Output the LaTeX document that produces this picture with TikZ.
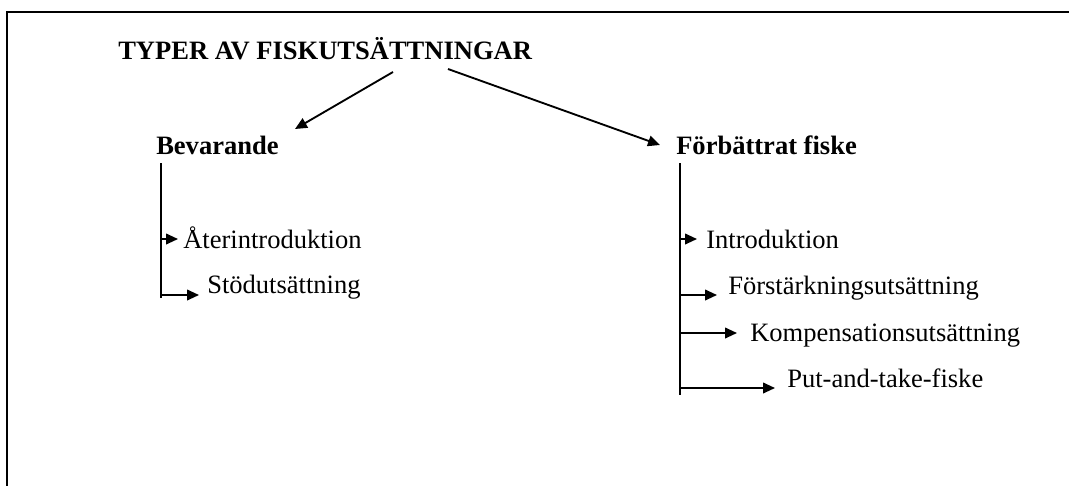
\documentclass[tikz,border=0pt]{standalone}
\usepackage{fontspec}
\setmainfont{Liberation Serif}
\usepackage{tikz}
\usetikzlibrary{positioning,arrows.meta,calc}

\begin{document}
\begin{tikzpicture}[x=0.75pt, y=-0.75pt,
          every node/.style={font=\fontsize{19.9}{23}\selectfont, inner sep=0pt, anchor=base west},
          head/.style={font=\fontsize{19.9}{23}\selectfont\bfseries},
          item/.style={},
          arr/.style={-{Triangle[length=9pt, width=8pt]}, line width=1.4pt},
          stem/.style={line width=1.4pt}
      ]
        \useasboundingbox (0,0) rectangle (1069,486);
        \draw[line width=2pt] (1069,12) -- (7,12) -- (7,486);

        \node[head] (title) at (118,59) {TYPER AV FISKUTSÄTTNINGAR};
        \node[head] (bev) at (156,154) {Bevarande};
        \node[head] (forb) at (676,154) {Förbättrat fiske};

        \coordinate (s1) at (393,72);
        \coordinate (s2) at (448,69);
        \coordinate (e1) at (295,129);
        \coordinate (e2) at (660,145);
        \draw[arr] (s1) -- (e1);
        \draw[arr] (s2) -- (e2);

        % left branch
        \coordinate (btop) at (161,163);
        \coordinate (bbot) at (161,298);
        \draw[stem] (btop) -- (bbot);
        \node[item] (b1) at (183,248) {Återintroduktion};
        \node[item] (b2) at (207,293) {Stödutsättning};
        \coordinate (bt1) at (178,239);
        \coordinate (bt2) at (199,295);
        \draw[arr] (btop |- bt1) -- (bt1);
        \draw[arr] (btop |- bt2) -- (bt2);

        % right branch
        \coordinate (ftop) at (680,163);
        \coordinate (fbot) at (680,395);
        \draw[stem] (ftop) -- (fbot);
        \node[item] (f1) at (706,248) {Introduktion};
        \node[item] (f2) at (728,294) {Förstärkningsutsättning};
        \node[item] (f3) at (750,341) {Kompensationsutsättning};
        \node[item] (f4) at (787,387) {Put-and-take-fiske};
        \coordinate (ft1) at (697,239);
        \coordinate (ft2) at (717,295);
        \coordinate (ft3) at (737,333);
        \coordinate (ft4) at (775,388);
        \draw[arr] (ftop |- ft1) -- (ft1);
        \draw[arr] (ftop |- ft2) -- (ft2);
        \draw[arr] (ftop |- ft3) -- (ft3);
        \draw[arr] (ftop |- ft4) -- (ft4);
      \end{tikzpicture}
\end{document}
